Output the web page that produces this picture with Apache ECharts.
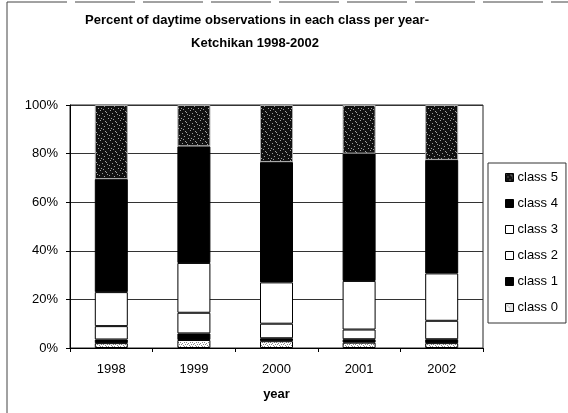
<!DOCTYPE html>
<html>
<head>
<meta charset="utf-8">
<script src="https://cdn.jsdelivr.net/npm/echarts@6/dist/echarts.min.js"></script>
<style>html,body{margin:0;padding:0;background:#fff;}#c{width:568px;height:413px;}</style>
</head>
<body>
<div id="c"></div>
<script>
// ---- data (percent of daytime observations) ----
const years = ['1998', '1999', '2000', '2001', '2002'];
const class0 = [2.0, 3.3, 2.8, 2.2, 2.0];
const class1 = [1.5, 2.7, 1.2, 1.4, 1.6];
const class2 = [5.5, 8.5, 6.0, 4.0, 7.6];
const class3 = [14.0, 20.5, 17.0, 20.0, 19.5];
const class4 = [46.5, 48.0, 49.5, 52.4, 46.7];
const class5 = [30.5, 17.0, 23.5, 20.0, 22.6];
const yTicks = [0, 20, 40, 60, 80, 100];
const titleLines = ['Percent of daytime observations in each class per year-', 'Ketchikan 1998-2002'];

function makeTile(bg, fg, pts, size) {
  const cv = document.createElement('canvas');
  cv.width = size; cv.height = size;
  const g = cv.getContext('2d');
  g.fillStyle = bg; g.fillRect(0, 0, size, size);
  g.fillStyle = fg;
  pts.forEach(p => g.fillRect(p[0], p[1], 1, 1));
  return cv;
}
const darkTile = makeTile('#111111', '#a0a0a0', [[0,0],[5,1],[2,3],[7,4],[4,6],[1,8],[8,8],[6,2],[3,9],[9,5]], 10);
const lightTile = makeTile('#ffffff', '#888888', [[0,0],[2,1],[4,0],[1,2],[3,3],[5,2],[0,4],[4,4]], 6);

const font = '"Liberation Sans", Arial, sans-serif';
const chart = echarts.init(document.getElementById('c'), null, {renderer: 'canvas'});

function ser(name, data, color, border, bw) {
  return {
    name: name, type: 'bar', stack: 'all', data: data, barWidth: 33,
    itemStyle: {color: color, borderColor: border, borderWidth: bw},
    emphasis: {disabled: true}
  };
}

chart.setOption({
  animation: false,
  backgroundColor: '#fff',
  grid: {left: 70, right: 85, top: 105, bottom: 65, show: true, borderColor: '#222', borderWidth: 1},
  graphic: [
    {type: 'line', shape: {x1: 7, y1: 2, x2: 568, y2: 2}, style: {stroke: '#444', lineWidth: 1, lineDash: [60, 8]}},
    {type: 'line', shape: {x1: 7, y1: 2, x2: 7, y2: 413}, style: {stroke: '#444', lineWidth: 1}},
    {type: 'text', x: 257, y: 20, style: {text: titleLines[0], font: 'bold 13px ' + font, fill: '#000', textAlign: 'center', textVerticalAlign: 'middle'}},
    {type: 'text', x: 255, y: 43, style: {text: titleLines[1], font: 'bold 13px ' + font, fill: '#000', textAlign: 'center', textVerticalAlign: 'middle'}}
  ],
  legend: {
    orient: 'vertical', left: 488, top: 163,
    padding: [8, 8, 9, 17],
    itemWidth: 8, itemHeight: 8, itemGap: 13,
    icon: 'rect',
    borderColor: '#333', borderWidth: 1,
    data: ['class 5', 'class 4', 'class 3', 'class 2', 'class 1', 'class 0'],
    textStyle: {fontFamily: font, fontSize: 13, color: '#000', padding: [0, 0, 0, -1]},
    itemStyle: {borderColor: '#000', borderWidth: 1}
  },
  xAxis: {
    type: 'category', data: years,
    name: 'year', nameLocation: 'middle', nameGap: 40,
    nameTextStyle: {fontFamily: font, fontSize: 13, fontWeight: 'bold', color: '#000'},
    axisLine: {lineStyle: {color: '#000', width: 1}},
    axisTick: {show: true, length: 4, lineStyle: {color: '#000'}},
    axisLabel: {fontFamily: font, fontSize: 13, color: '#000', margin: 15}
  },
  yAxis: {
    type: 'value', min: 0, max: 100, interval: 20,
    axisLine: {show: true, lineStyle: {color: '#000', width: 1}},
    axisTick: {show: true, length: 4, lineStyle: {color: '#000'}},
    axisLabel: {fontFamily: font, fontSize: 13, color: '#000', margin: 12,
      formatter: v => yTicks.indexOf(v) >= 0 ? v + '%' : ''},
    splitLine: {show: true, lineStyle: {color: '#333', width: 1}}
  },
  series: [
    ser('class 0', class0, {image: lightTile, repetition: 'repeat'}, '#000', 1),
    ser('class 1', class1, '#000', '#000', 1),
    ser('class 2', class2, '#fff', '#000', 1),
    ser('class 3', class3, '#fff', '#000', 1),
    ser('class 4', class4, '#000', '#000', 1),
    ser('class 5', class5, {image: darkTile, repetition: 'repeat'}, '#aaa', 1)
  ]
});
</script>
</body>
</html>
